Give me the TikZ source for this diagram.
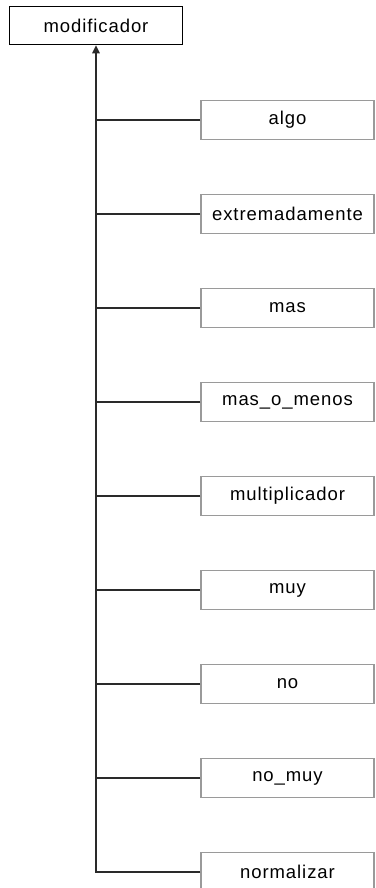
\documentclass[tikz,border=0pt]{standalone}
\usepackage{fontspec}
\setmainfont[LetterSpace=5]{Liberation Sans}
\usetikzlibrary{arrows.meta}
\definecolor{linec}{HTML}{2A2A2A}
\definecolor{boxc}{HTML}{9A9A9A}
\tikzset{
  rootbox/.style={draw=black, line width=1.3pt, minimum width=173pt, minimum height=38.5pt, inner sep=0pt, font=\fontsize{18.5}{22}\selectfont, text=black},
  leafbox/.style={draw=boxc, line width=1.3pt, minimum width=173pt, minimum height=38.5pt, inner sep=0pt, font=\fontsize{18.5}{22}\selectfont, text=black},
  conn/.style={draw=linec, line width=1.4pt},
  tip/.style={-{Triangle[width=7.5pt,length=8pt]}}
}
\begin{document}
\begin{tikzpicture}[x=1pt,y=-1pt]
\useasboundingbox (0,0) rectangle (375,888);
\node[rootbox] (root) at (96,25.5) {modificador};
\coordinate (trunk) at (96,60);
\node[leafbox] (n1) at (287.5,120) {algo};
\node[leafbox] (n2) at (287.5,214) {extremadamente};
\node[leafbox] (n3) at (287.5,308) {mas};
\node[leafbox] (n4) at (287.5,402) {mas\_o\_menos};
\node[leafbox] (n5) at (287.5,496) {multiplicador};
\node[leafbox] (n6) at (287.5,590) {muy};
\node[leafbox] (n7) at (287.5,684) {no};
\node[leafbox] (n8) at (287.5,778) {no\_muy};
\node[leafbox] (n9) at (287.5,872) {normalizar};
\foreach \n in {n1,n2,n3,n4,n5,n6,n7,n8}
  \draw[conn] (\n.west) -- (\n.west -| trunk);
\draw[conn,tip] (n9.west) -- (n9.west -| trunk) -- (root.south);
\end{tikzpicture}
\end{document}
